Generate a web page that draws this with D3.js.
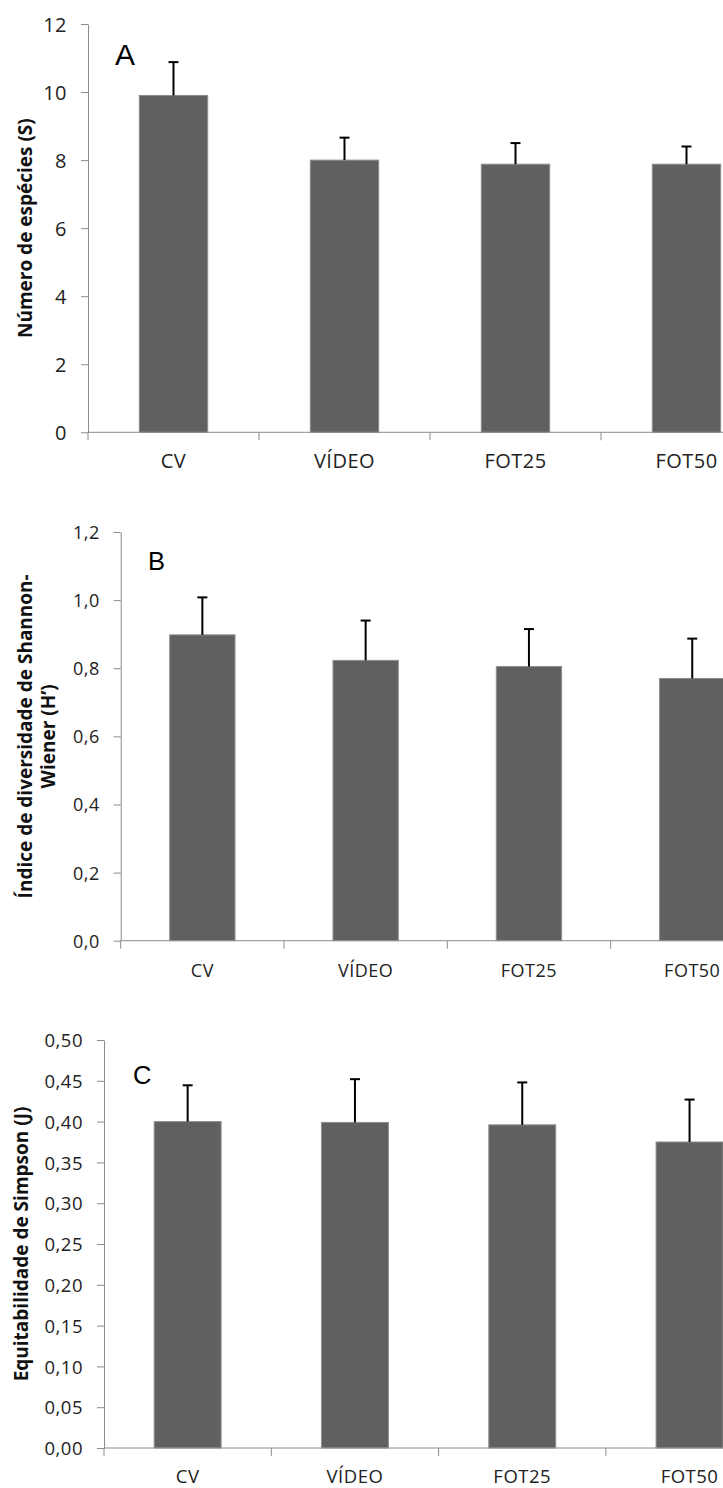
<!DOCTYPE html>
<html>
<head>
<meta charset="utf-8">
<script src="https://cdn.jsdelivr.net/npm/d3@7"></script>
<style>
  html, body { margin: 0; padding: 0; background: #fff; }
  svg { display: block; }
  .tick text { font-family: "Open Sans", sans-serif; fill: #222; letter-spacing: 0.5px; }
  .ytitle { font-family: "Open Sans", sans-serif; font-weight: bold; font-size: 19px; fill: #111; }
  .panel-letter { font-family: "Liberation Sans", Arial, sans-serif; fill: #000; }
</style>
</head>
<body>
<script>
// Treatment categories shared by all three panels
const categories = ["CV", "VÍDEO", "FOT25", "FOT50"];

// Panel A: species richness (S), mean and standard deviation
const speciesMean = [9.9, 8.0, 7.88, 7.88];
const speciesSd   = [0.98, 0.66, 0.62, 0.52];
const speciesTicks = [0, 2, 4, 6, 8, 10, 12];

// Panel B: Shannon-Wiener diversity (H')
const shannonMean = [0.898, 0.823, 0.805, 0.770];
const shannonSd   = [0.110, 0.117, 0.110, 0.117];
const shannonTicks = [0, 0.2, 0.4, 0.6, 0.8, 1.0, 1.2];

// Panel C: Simpson evenness (J)
const simpsonMean = [0.400, 0.399, 0.396, 0.375];
const simpsonSd   = [0.0445, 0.053, 0.052, 0.052];
const simpsonTicks = [0, 0.05, 0.10, 0.15, 0.20, 0.25, 0.30, 0.35, 0.40, 0.45, 0.50];

const W = 723, H = 1488;
const ptBR = d3.formatLocale({ decimal: ",", thousands: ".", grouping: [3], currency: ["R$", ""] });

const svg = d3.select("body").append("svg")
  .attr("width", W).attr("height", H);

const panels = [
  { letter: "A", means: speciesMean, sds: speciesSd, ticks: speciesTicks, fmt: ptBR.format("d"),
    x0: 88, step: 171, yTop: 24, yBot: 432.3, font: 20,
    title: ["Número de espécies (S)"], titleX: [32], letterX: 115, letterY: 65, letterSize: 30, labelDy: 36 },
  { letter: "B", means: shannonMean, sds: shannonSd, ticks: shannonTicks, fmt: ptBR.format(".1f"),
    x0: 120.7, step: 163.3, yTop: 532, yBot: 940.7, font: 18,
    title: ["Índice de diversidade de Shannon-", "Wiener (H’)"], titleX: [32, 55], letterX: 148, letterY: 570, letterSize: 25.5, labelDy: 36 },
  { letter: "C", means: simpsonMean, sds: simpsonSd, ticks: simpsonTicks, fmt: ptBR.format(".2f"),
    x0: 104, step: 167.3, yTop: 1040, yBot: 1448, font: 18.5,
    title: ["Equitabilidade de Simpson (J)"], titleX: [28], letterX: 133, letterY: 1084, letterSize: 25.5, labelDy: 35 }
];

const axisColor = "#8c8c8c";

panels.forEach(p => {
  const g = svg.append("g");
  const n = categories.length;

  const x = d3.scaleBand()
    .domain(categories)
    .range([p.x0, p.x0 + n * p.step])
    .paddingInner(0.6)
    .paddingOuter(0.3);

  const y = d3.scaleLinear()
    .domain([0, d3.max(p.ticks)])
    .range([p.yBot, p.yTop]);

  // Bars
  g.selectAll("rect.bar")
    .data(categories)
    .join("rect")
    .attr("class", "bar")
    .attr("x", d => x(d))
    .attr("width", x.bandwidth())
    .attr("y", (d, i) => y(p.means[i]))
    .attr("height", (d, i) => y(0) - y(p.means[i]))
    .attr("fill", "#606060")
    .attr("stroke", "#8e8e8e")
    .attr("stroke-width", 1);

  // Upper error bars
  const eb = g.selectAll("g.err")
    .data(categories)
    .join("g")
    .attr("class", "err")
    .attr("stroke", "#000")
    .attr("stroke-width", 2);
  eb.append("line")
    .attr("x1", d => x(d) + x.bandwidth() / 2)
    .attr("x2", d => x(d) + x.bandwidth() / 2)
    .attr("y1", (d, i) => y(p.means[i]))
    .attr("y2", (d, i) => y(p.means[i] + p.sds[i]));
  eb.append("line")
    .attr("x1", d => x(d) + x.bandwidth() / 2 - 5)
    .attr("x2", d => x(d) + x.bandwidth() / 2 + 5)
    .attr("y1", (d, i) => y(p.means[i] + p.sds[i]))
    .attr("y2", (d, i) => y(p.means[i] + p.sds[i]));

  // Y axis
  const yAxis = g.append("g")
    .attr("transform", `translate(${p.x0},0)`)
    .call(d3.axisLeft(y).tickValues(p.ticks).tickFormat(p.fmt)
      .tickSize(7).tickSizeOuter(0).tickPadding(14));
  yAxis.selectAll("path, line").attr("stroke", axisColor);
  yAxis.selectAll("text").attr("font-size", p.font).attr("font-family", null).attr("dy", "0.36em");

  // X axis: category labels centred in each band
  const xAxis = g.append("g")
    .attr("transform", `translate(0,${p.yBot})`)
    .call(d3.axisBottom(x).tickSize(0).tickSizeOuter(0).tickPadding(0));
  xAxis.select(".domain").remove();
  xAxis.selectAll("text")
    .attr("font-size", p.font).attr("font-family", null)
    .attr("y", p.labelDy).attr("dy", 0);

  // Axis baseline and category boundary ticks
  g.append("line")
    .attr("x1", p.x0).attr("x2", W)
    .attr("y1", p.yBot).attr("y2", p.yBot)
    .attr("stroke", axisColor);
  g.selectAll("line.bound")
    .data(d3.range(n + 1))
    .join("line")
    .attr("class", "bound")
    .attr("x1", i => p.x0 + i * x.step())
    .attr("x2", i => p.x0 + i * x.step())
    .attr("y1", p.yBot)
    .attr("y2", p.yBot + 8)
    .attr("stroke", axisColor);

  // Axis title (rotated)
  const yMid = (p.yTop + p.yBot) / 2;
  p.title.forEach((t, k) => {
    g.append("text")
      .attr("class", "ytitle")
      .attr("transform", `translate(${p.titleX[k]},${yMid}) rotate(-90)`)
      .attr("text-anchor", "middle")
      .text(t);
  });

  // Panel letter
  g.append("text")
    .attr("class", "panel-letter")
    .attr("x", p.letterX)
    .attr("y", p.letterY)
    .attr("font-size", p.letterSize)
    .text(p.letter);
});
</script>
</body>
</html>
